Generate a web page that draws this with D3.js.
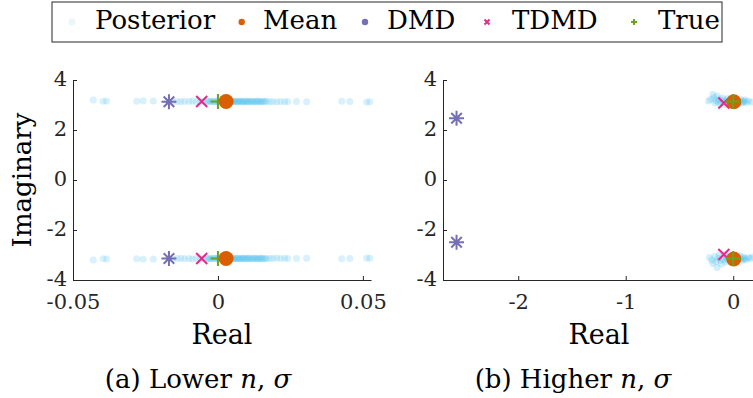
<!DOCTYPE html>
<html>
<head>
<meta charset="utf-8">
<script src="https://cdn.jsdelivr.net/npm/d3@7"></script>
<style>
  body { margin: 0; background: #fff; }
  svg, svg text { font-family: "DejaVu Serif", "Liberation Serif", serif; }
</style>
</head>
<body>
<div id="chart"></div>
<script>
// legend entries
var legendLabels = ["Posterior", "Mean", "DMD", "TDMD", "True"];

// tick values
var ticksXA = [-0.05, 0, 0.05];
var ticksXB = [-2, -1, 0];
var ticksY = [-4, -2, 0, 2, 4];

// panel (a): posterior samples (upper eigenvalue; lower is the conjugate)
var postAre = [-0.043, -0.0396, -0.0384, -0.028, -0.0258, -0.0223, 0.0271, 0.0306, 0.0427, 0.0455, 0.0513, 0.0524,
  -0.0155, -0.014, -0.0128, -0.0115, -0.01, -0.0088, -0.0075, -0.0062, -0.005, -0.004, -0.003,
  -0.0022, -0.0015, -0.0008, -0.0002, 0.0004, 0.001, 0.0015, 0.002, 0.0026, 0.0031, 0.0036, 0.0042, 0.0047, 0.0052,
  0.0058, 0.0063, 0.0069, 0.0074, 0.008, 0.0085, 0.0091, 0.0097, 0.0103, 0.011, 0.0117, 0.0124, 0.0132, 0.014, 0.0149,
  0.0158, 0.0168, 0.0179, 0.019, 0.0203, 0.0216, 0.023, 0.0241,
  0.0001, 0.0012, 0.0023, 0.0034, 0.0045, 0.0055, 0.0066, 0.0077, 0.0088, 0.0099, 0.0108, 0.0119, 0.0128, 0.0137,
  -0.0012, -0.0025, -0.0035, 0.0145, 0.0153, 0.0163];
var postAim = [3.20, 3.15, 3.16, 3.15, 3.17, 3.16, 3.14, 3.13, 3.15, 3.14, 3.12, 3.13,
  3.15, 3.14, 3.13, 3.15, 3.14, 3.16, 3.13, 3.14, 3.15, 3.13, 3.14,
  3.15, 3.13, 3.14, 3.16, 3.12, 3.14, 3.15, 3.13, 3.14, 3.16, 3.12, 3.15, 3.14, 3.13,
  3.15, 3.14, 3.12, 3.16, 3.14, 3.13, 3.15, 3.14, 3.12, 3.15, 3.14, 3.13, 3.15, 3.14, 3.13,
  3.14, 3.15, 3.13, 3.14, 3.12, 3.14, 3.13, 3.14,
  3.12, 3.16, 3.13, 3.15, 3.12, 3.16, 3.13, 3.15, 3.12, 3.16, 3.13, 3.15, 3.12, 3.16,
  3.13, 3.15, 3.14, 3.13, 3.15, 3.14];

// panel (b): posterior samples
var postBup = [[-0.23, 3.16], [-0.21, 3.22], [-0.19, 3.42], [-0.18, 3.30], [-0.17, 3.08], [-0.16, 3.18], [-0.15, 3.36],
  [-0.14, 3.12], [-0.13, 3.24], [-0.12, 3.04], [-0.11, 3.16], [-0.10, 3.28], [-0.09, 3.10], [-0.08, 3.20], [-0.07, 3.02],
  [-0.06, 3.14], [-0.05, 3.26], [-0.04, 3.08], [-0.03, 3.18], [-0.02, 3.12], [-0.01, 3.22], [0.00, 3.06], [0.01, 3.16],
  [0.02, 3.24], [0.03, 3.10], [0.04, 3.18], [0.05, 3.04], [0.06, 3.14], [0.07, 3.22], [0.08, 3.08], [0.09, 3.16],
  [0.10, 3.12], [0.11, 3.20], [0.12, 3.10], [0.14, 3.16], [0.17, 3.12]];
var postBlo = [[-0.22, -3.10], [-0.20, -3.20], [-0.19, -3.34], [-0.17, -3.06], [-0.16, -3.26], [-0.15, -3.50], [-0.14, -3.14],
  [-0.13, -3.00], [-0.12, -3.22], [-0.11, -3.36], [-0.10, -3.08], [-0.09, -3.18], [-0.08, -2.98], [-0.07, -3.28], [-0.06, -3.12],
  [-0.05, -3.20], [-0.04, -3.04], [-0.03, -3.16], [-0.02, -3.26], [-0.01, -3.10], [0.00, -3.20], [0.01, -3.06], [0.02, -3.16],
  [0.03, -3.24], [0.04, -3.10], [0.05, -3.18], [0.06, -3.02], [0.07, -3.14], [0.08, -3.22], [0.09, -3.08], [0.10, -3.16],
  [0.11, -3.12], [0.12, -3.20], [0.14, -3.10], [0.16, -3.14], [0.18, -3.08]];

// point estimates
var meanA = [[0.0028, 3.14], [0.0028, -3.14]];
var dmdA = [[-0.0169, 3.13], [-0.0169, -3.14]];
var tdmdA = [[-0.0056, 3.14], [-0.0056, -3.14]];
var trueA = [[0, 3.14], [0, -3.14]];
var meanB = [[0.005, 3.13], [0.005, -3.16]];
var dmdB = [[-2.574, 2.47], [-2.574, -2.49]];
var tdmdB = [[-0.087, 3.08], [-0.087, -2.98]];
var trueB = [[0, 3.14], [0, -3.14]];

var colors = {post: "#4DBEEE", mean: "#D95F02", dmd: "#7570B3", tdmd: "#E7298A", tru: "#66A61E"};
var axisColor = "#262626";

var svg = d3.select("#chart").append("svg")
  .attr("width", 753)
  .attr("height", 398);

var y = d3.scaleLinear().domain([-4, 4]).range([280, 80]);
var xA = d3.scaleLinear().domain([-0.05, 0.0528]).range([73, 371]);
var xB = d3.scaleLinear().domain([-2.7, 0.2]).range([443, 754.7]);

function asterisk(r) {
  var d = r * Math.SQRT1_2;
  return "M0," + (-r) + "V" + r + "M" + (-r) + ",0H" + r +
    "M" + (-d) + "," + (-d) + "L" + d + "," + d + "M" + (-d) + "," + d + "L" + d + "," + (-d);
}
function cross(r) {
  return "M" + (-r) + "," + (-r) + "L" + r + "," + r + "M" + (-r) + "," + r + "L" + r + "," + (-r);
}
function plus(r) {
  return "M0," + (-r) + "V" + r + "M" + (-r) + ",0H" + r;
}

function drawAxes(x, ticksX, fmt, labelX) {
  var gx = svg.append("g")
    .attr("transform", "translate(0,280)")
    .call(d3.axisBottom(x).tickValues(ticksX).tickFormat(fmt).tickSizeInner(-4).tickSizeOuter(0).tickPadding(14));
  var gy = svg.append("g")
    .attr("transform", "translate(" + x.range()[0] + ",0)")
    .call(d3.axisLeft(y).tickValues(ticksY).tickFormat(function(d) { return d < 0 ? "-" + Math.abs(d) : d; })
      .tickSizeInner(-4).tickSizeOuter(0).tickPadding(6));
  gy.selectAll(".tick text").attr("dy", "0.28em");
  [gx, gy].forEach(function(g) {
    g.attr("font-family", null).attr("font-size", 21);
    g.select(".domain").attr("stroke", axisColor).attr("stroke-width", 1);
    g.selectAll(".tick line").attr("stroke", axisColor);
    g.selectAll(".tick text").attr("fill", axisColor);
  });
  svg.append("text")
    .attr("x", labelX).attr("y", 344)
    .attr("text-anchor", "middle")
    .style("font-size", "27px")
    .text("Real");
}

function drawPosterior(pts, x, op) {
  svg.append("g").selectAll("circle")
    .data(pts).enter().append("circle")
    .attr("cx", function(d) { return x(d[0]); })
    .attr("cy", function(d) { return y(d[1]); })
    .attr("r", 3.5)
    .attr("fill", colors.post)
    .attr("fill-opacity", op);
}
function drawMean(pts, x) {
  svg.append("g").selectAll("circle")
    .data(pts).enter().append("circle")
    .attr("cx", function(d) { return x(d[0]); })
    .attr("cy", function(d) { return y(d[1]); })
    .attr("r", 7.5)
    .attr("fill", colors.mean);
}
function drawPath(pts, x, path, color, w) {
  svg.append("g").selectAll("path")
    .data(pts).enter().append("path")
    .attr("transform", function(d) { return "translate(" + x(d[0]) + "," + y(d[1]) + ")"; })
    .attr("d", path)
    .attr("fill", "none")
    .attr("stroke", color)
    .attr("stroke-width", w);
}

// panel (a)
var fmtA = function(d) { return d === 0 ? "0" : (d < 0 ? "-" : "") + Math.abs(d).toFixed(2); };
drawAxes(xA, ticksXA, fmtA, 222);
var postA = postAre.map(function(r, i) { return [r, postAim[i]]; })
  .concat(postAre.map(function(r, i) { return [r, -postAim[i]]; }));
drawPosterior(postA, xA, 0.22);
drawPath(dmdA, xA, asterisk(7.5), colors.dmd, 2);
drawPath(tdmdA, xA, cross(5.5), colors.tdmd, 2);
drawPath(trueA, xA, plus(7.5), colors.tru, 2);
drawMean(meanA, xA);

// panel (b)
drawAxes(xB, ticksXB, function(d) { return d < 0 ? "-" + Math.abs(d) : d; }, 599);
drawPosterior(postBup.concat(postBlo), xB, 0.25);
drawPath(dmdB, xB, asterisk(7.5), colors.dmd, 2);
drawPath(tdmdB, xB, cross(5.5), colors.tdmd, 2);
drawMean(meanB, xB);
drawPath(trueB, xB, plus(7.5), colors.tru, 2);

// y label
svg.append("text")
  .attr("transform", "translate(31,180) rotate(-90)")
  .attr("text-anchor", "middle")
  .style("font-size", "26px")
  .text("Imaginary");

// captions
function caption(cx, prefix) {
  var t = svg.append("text")
    .attr("x", cx).attr("y", 388)
    .attr("text-anchor", "middle")
    .style("font-size", "26px");
  t.append("tspan").text(prefix);
  t.append("tspan").style("font-style", "italic").text("n");
  t.append("tspan").text(", ");
  t.append("tspan").style("font-style", "italic").text("σ");
}
caption(198, "(a) Lower ");
caption(573, "(b) Higher ");

// legend
var legendX = [72, 241.7, 365, 487, 634];
var legendTextX = [95, 263, 387, 512, 658];
var leg = svg.append("g");
leg.append("rect")
  .attr("x", 52).attr("y", 2).attr("width", 670).attr("height", 40)
  .attr("fill", "#fff").attr("stroke", axisColor).attr("stroke-width", 1);
var items = leg.selectAll("g.item")
  .data(legendLabels).enter().append("g")
  .attr("class", "item");
items.append("text")
  .attr("x", function(d, i) { return legendTextX[i]; })
  .attr("y", 29)
  .style("font-size", "26px")
  .text(function(d) { return d; });
items.each(function(d, i) {
  var g = d3.select(this);
  var cx = legendX[i], cy = 22;
  if (i === 0) {
    g.append("circle").attr("cx", cx).attr("cy", cy).attr("r", 3.5).attr("fill", colors.post).attr("fill-opacity", 0.12);
  } else if (i === 1) {
    g.append("circle").attr("cx", cx).attr("cy", cy).attr("r", 3.2).attr("fill", colors.mean);
  } else if (i === 2) {
    g.append("circle").attr("cx", cx).attr("cy", cy).attr("r", 3.2).attr("fill", colors.dmd);
  } else if (i === 3) {
    g.append("path").attr("transform", "translate(" + cx + "," + cy + ")").attr("d", cross(2.5))
      .attr("stroke", colors.tdmd).attr("stroke-width", 2);
  } else {
    g.append("path").attr("transform", "translate(" + cx + "," + cy + ")").attr("d", plus(3))
      .attr("stroke", colors.tru).attr("stroke-width", 2);
  }
});
</script>
</body>
</html>
